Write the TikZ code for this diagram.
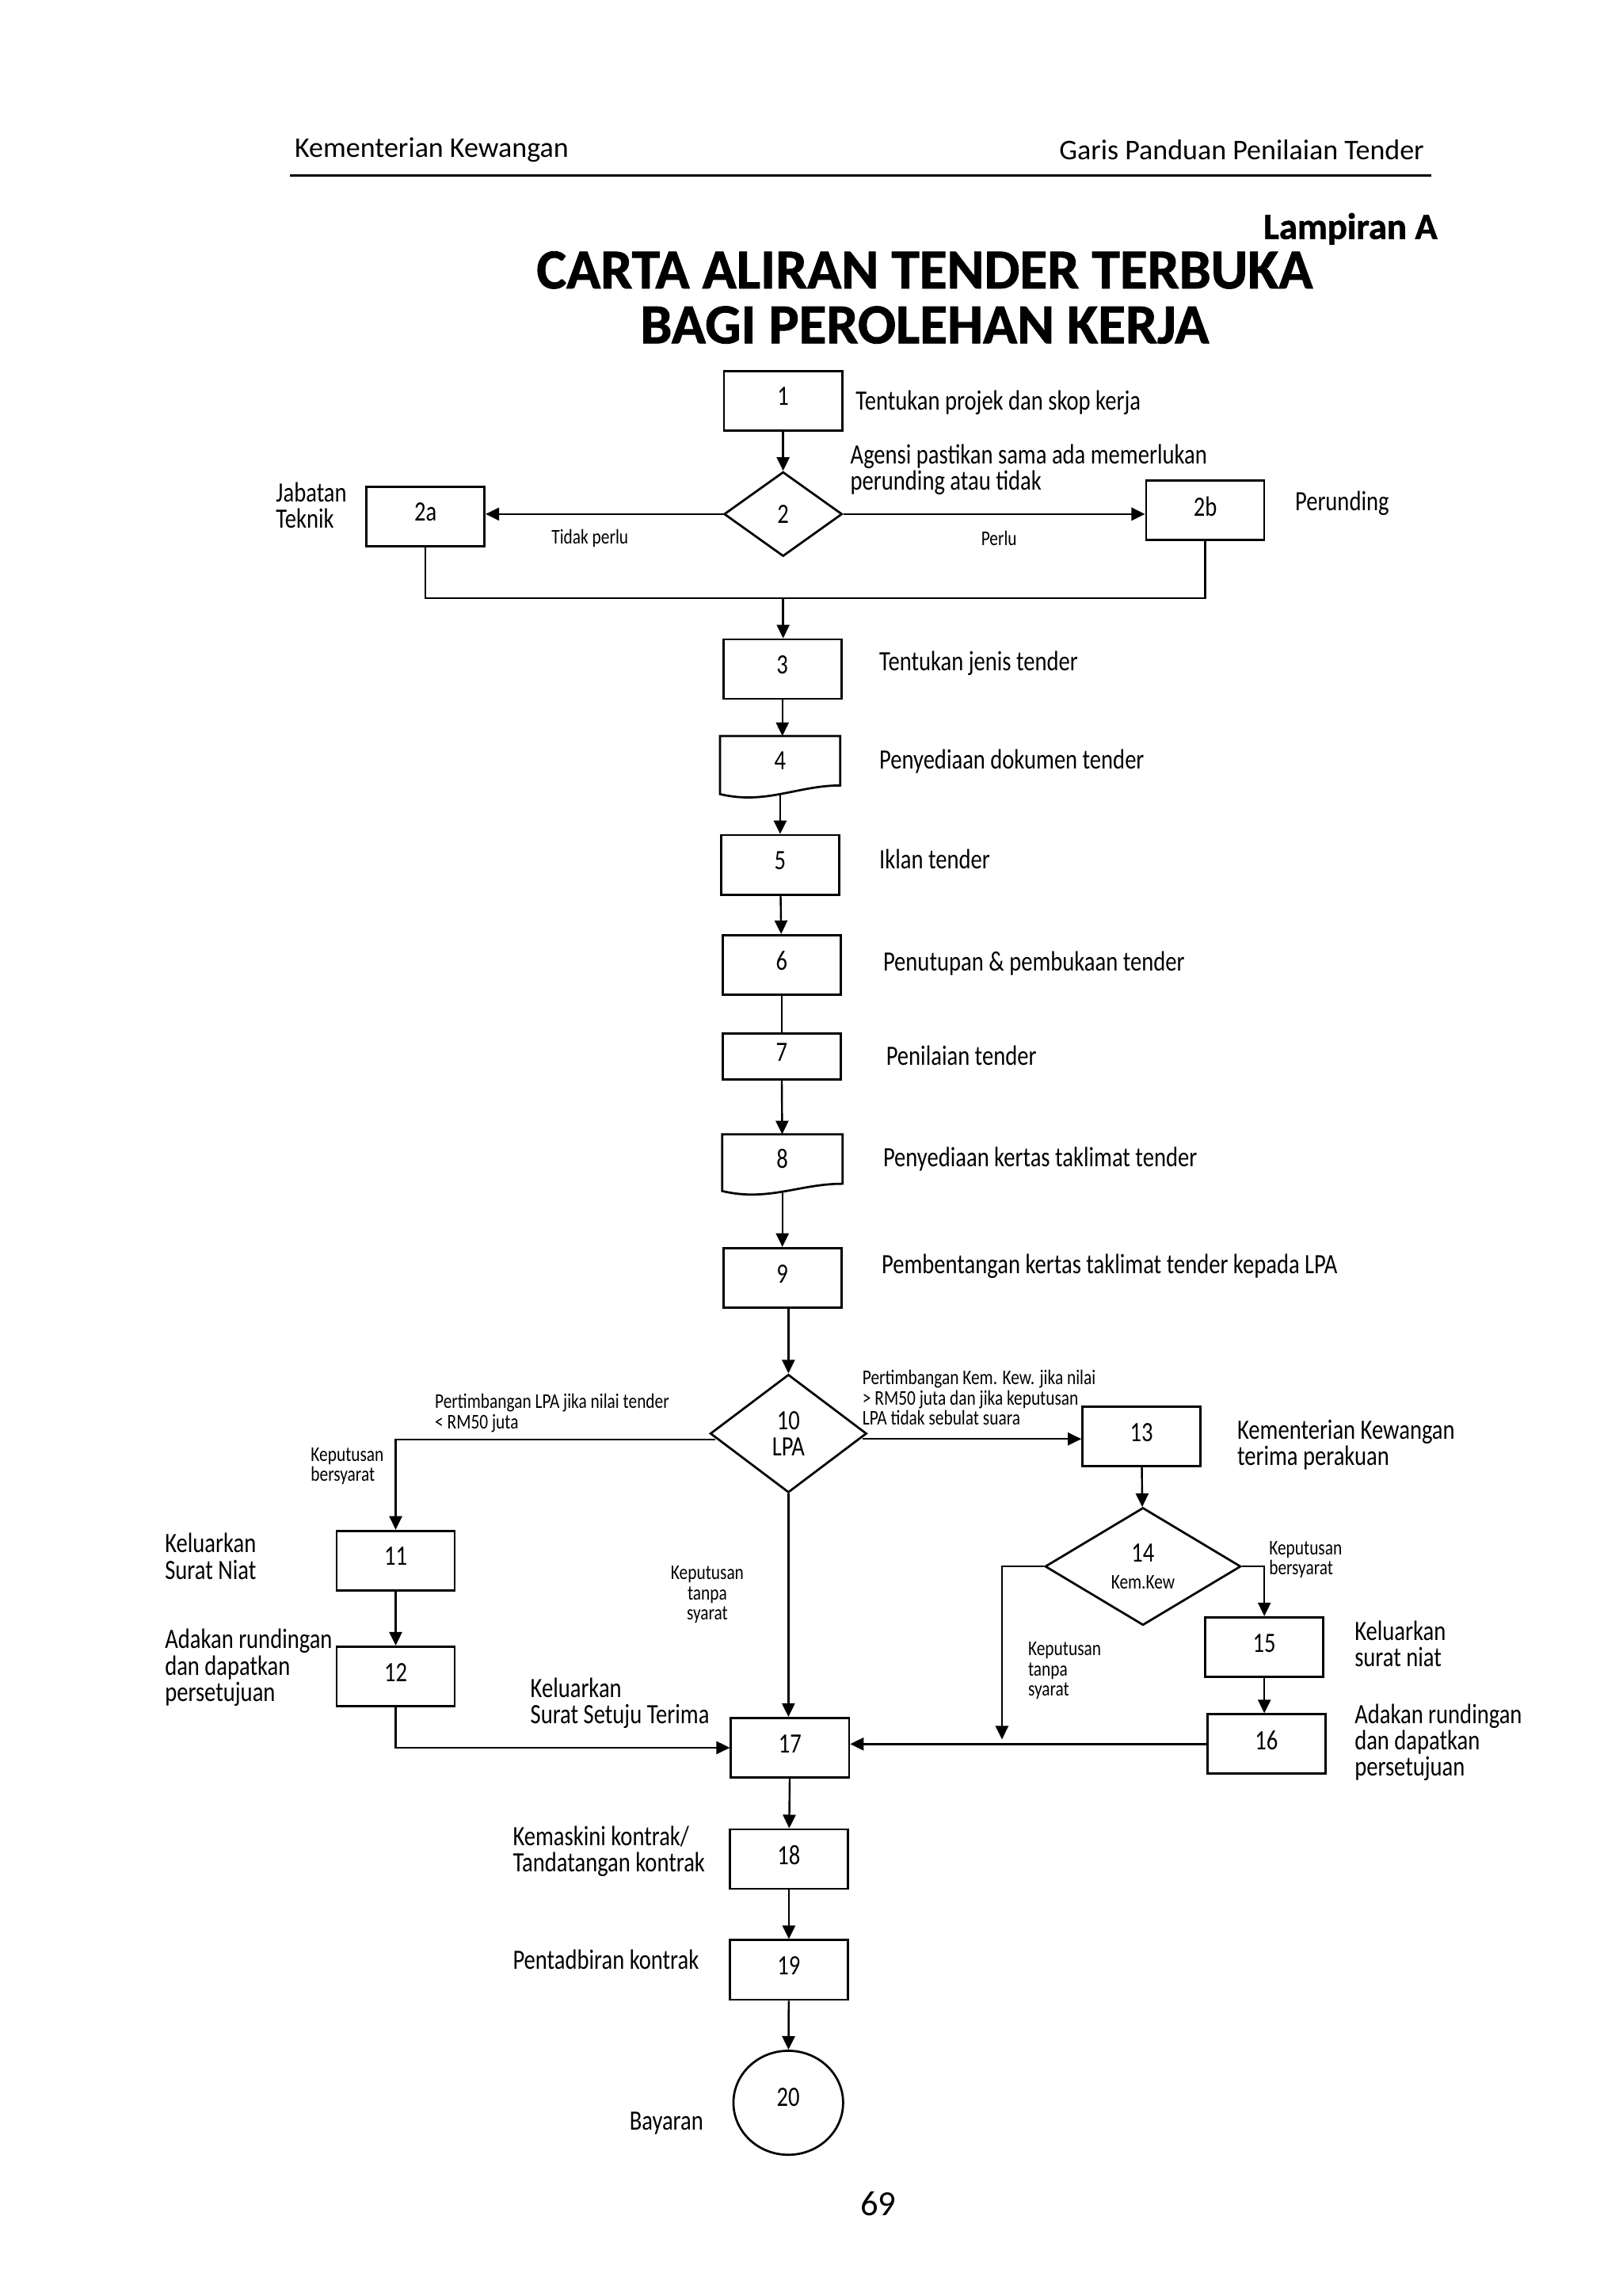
\documentclass[tikz,border=0pt]{standalone}
\usepackage{fontspec}
\setmainfont{Carlito}[FakeStretch=0.81]
\newfontfamily\hdrfont{Carlito}
\newfontfamily\ttlfont{Carlito}[BoldFeatures={FakeBold=1.2}]
\usepackage{tikz}
\usetikzlibrary{arrows.meta,shapes.geometric,calc}

\tikzset{
  box/.style={draw, rectangle, line width=0.8pt, minimum width=43.5pt, minimum height=21.9pt, inner sep=0pt, text depth=3pt, font=\fontsize{10.3}{9.7}\selectfont},
  doc/.style={box, draw=none},
  dia/.style={draw, diamond, line width=0.8pt, inner sep=0pt, align=center, font=\fontsize{10.3}{9.7}\selectfont},
  arr/.style={-{Triangle[length=5pt,width=4.7pt]}, line width=0.7pt},
  lne/.style={line width=0.7pt},
  lbl/.style={anchor=west, align=left, inner sep=0pt, font=\fontsize{10.3}{9.7}\selectfont},
  sml/.style={anchor=west, align=left, inner sep=0pt, font=\fontsize{7.7}{7.4}\selectfont},
}

\begin{document}
\begin{tikzpicture}[x=0.5432pt, y=-0.5432pt]
          \fill[white] (0,0) rectangle (1100,1556.5);
          \useasboundingbox (0,0) rectangle (1100,1556.5);

          \node[anchor=west, inner sep=0pt, font=\hdrfont\fontsize{10.5}{12}\selectfont] at (199.5,101.5) (kk) {Kementerian Kewangan};
          \node[anchor=east, inner sep=0pt, font=\hdrfont\fontsize{10.5}{12}\selectfont] at (966,101.5) (gp) {Garis Panduan Penilaian Tender};
          \draw[line width=0.8pt] (196.7,118.9) -- (970.5,118.9);
          \node[anchor=base east, inner sep=0pt, font=\ttlfont\bfseries\fontsize{13.6}{16}\selectfont] at (975,162) (lamp) {Lampiran A};
          \node[anchor=base, inner sep=0pt, font=\ttlfont\bfseries\fontsize{20.8}{24}\selectfont] at (627,195.5) (tajuk1) {CARTA ALIRAN TENDER TERBUKA};
          \node[anchor=base, inner sep=0pt, font=\ttlfont\bfseries\fontsize{20.8}{24}\selectfont] at (627,232.7) (tajuk2) {BAGI PEROLEHAN KERJA};

          \node[box] at (531,271.6) (1) {1};
          \node[dia, minimum width=43.5pt, minimum height=31.1pt] at (531,348.5) (2) {2};
          \node[box] at (288.5,350) (2a) {2a};
          \node[box] at (817.2,346) (2b) {2b};
          \coordinate (jn) at (531,405.5);
          \node[box] at (530.5,453.6) (3) {3};
          \node[doc, minimum height=20.6pt] at (529,518.65) (4) {4};
          \node[box] at (529,586.3) (5) {5};
          \node[box] at (530,654.1) (6) {6};
          \node[box, minimum height=16.9pt] at (530,716.2) (7) {7};
          \node[doc, minimum height=20.1pt] at (530.5,788.2) (8) {8};
          \node[box] at (530.5,866.2) (9) {9};
          \node[dia, minimum width=57.6pt, minimum height=43.5pt] at (534.6,971.8) (10) {10\\LPA};
          \node[box] at (268.3,1057.9) (11) {11};
          \node[box] at (268.3,1136.4) (12) {12};
          \node[box] at (774,973.9) (13) {13};
          \node[dia, minimum width=72.1pt, minimum height=43.3pt] at (775,1061.9) (14) {14\\{\fontsize{7.7}{8}\selectfont Kem.Kew}};
          \node[box] at (857.3,1116.5) (15) {15};
          \node[box] at (858.7,1182.3) (16) {16};
          \node[box] at (535.7,1184.8) (17) {17};
          \node[box] at (534.9,1260.3) (18) {18};
          \node[box] at (534.9,1335.4) (19) {19};
          \node[draw, ellipse, line width=0.8pt, minimum width=40.4pt, minimum height=38.3pt, inner sep=0pt, text depth=4pt, font=\fontsize{10.3}{9.7}\selectfont] at (534.5,1425.5) (20) {20};
          \coordinate (c14) at (679.4,1179.2);

          \draw[line width=0.8pt] (4.south west) -- (4.north west) -- (4.north east) -- ([yshift=3.2pt]4.south east) .. controls +(-29,0) and +(31,7.4) .. (4.south west) -- cycle;
          \draw[line width=0.8pt] (8.south west) -- (8.north west) -- (8.north east) -- ([yshift=2.7pt]8.south east) .. controls +(-29,0) and +(31,7.4) .. (8.south west) -- cycle;

          \draw[arr] (1) -- (2);
          \draw[arr] (2.west) -- (2.west -| 2a.east);
          \draw[arr] (2.east) -- (2.east -| 2b.west);
          \draw[lne] (2a.south) |- (jn) -| (2b.south);
          \draw[arr] (jn) -- (jn |- 3.north);
          \draw[arr] (3.south) -- (3.south |- 4.north);
          \draw[arr] (4.south) -- (4.south |- 5.north);
          \draw[arr] (5) -- (6);
          \draw[lne] (6) -- (7);
          \draw[arr] (7) -- (8);
          \draw[arr] (8.south) -- (8.south |- 9.north);
          \draw[arr] (10.north |- 9.south) -- (10.north);
          \draw[arr] ([xshift=2.2pt,yshift=-2.2pt]10.west) -| (11.north);
          \draw[arr] ([xshift=-2pt,yshift=-2pt]10.east) -- ([yshift=-2pt]10.east -| 13.west);
          \draw[arr] (10.south) -- (10.south |- 17.north);
          \draw[arr] (11) -- (12);
          \draw[arr] (12.south) |- (17.west);
          \draw[arr] (13) -- (14);
          \draw[arr] (14.east) -| (15.north);
          \draw[arr] (14.west) -| (c14);
          \draw[arr] (15.south) -- (15.south |- 16.north);
          \draw[arr] (16.west) -- (16.west -| 17.east);
          \draw[arr] (17) -- (18);
          \draw[arr] (18) -- (19);
          \draw[arr] (19) -- (20);

          \node[lbl] at (579.9,273) (t1) {Tentukan projek dan skop kerja};
          \node[lbl] at (576.3,318.5) (t2) {Agensi pastikan sama ada memerlukan\\perunding atau tidak};
          \node[lbl] at (186.8,342.5) (t2a) {Jabatan\\Teknik};
          \node[lbl] at (877.8,341) (t2b) {Perunding};
          \node[sml, anchor=center] at (400,364.8) (tp) {Tidak perlu};
          \node[sml, anchor=center] at (677.4,364.8) (pl) {Perlu};
          \node[lbl] at (595.9,449.7) (t3) {Tentukan jenis tender};
          \node[lbl] at (595.9,516) (t4) {Penyediaan dokumen tender};
          \node[lbl] at (595.9,582.3) (t5) {Iklan tender};
          \node[lbl] at (598.5,653.2) (t6) {Penutupan \& pembukaan tender};
          \node[lbl] at (600.5,715.7) (t7) {Penilaian tender};
          \node[lbl] at (598.5,785.7) (t8) {Penyediaan kertas taklimat tender};
          \node[lbl] at (597.5,858.2) (t9) {Pembentangan kertas taklimat tender kepada LPA};
          \node[sml] at (294.6,958) (t10a) {Pertimbangan LPA jika nilai tender\\< RM50 juta};
          \node[sml] at (210.4,993.8) (t10b) {Keputusan\\bersyarat};
          \node[sml] at (584.5,947.5) (t10c) {Pertimbangan Kem. Kew. jika nilai\\> RM50 juta dan jika keputusan\\LPA tidak sebulat suara};
          \node[sml, anchor=center, align=center] at (479.6,1081) (t10d) {Keputusan\\tanpa\\syarat};
          \node[lbl] at (838.6,979.5) (t13) {Kementerian Kewangan\\terima perakuan};
          \node[sml] at (860.2,1057.3) (t14a) {Keputusan\\bersyarat};
          \node[sml] at (696.8,1132.7) (t14b) {Keputusan\\tanpa\\syarat};
          \node[lbl] at (918.2,1114.4) (t15) {Keluarkan\\surat niat};
          \node[lbl] at (918.2,1181.2) (t16) {Adakan rundingan\\dan dapatkan\\persetujuan};
          \node[lbl] at (111.5,1055) (t11) {Keluarkan\\Surat Niat};
          \node[lbl] at (111.5,1130.5) (t12) {Adakan rundingan\\dan dapatkan\\persetujuan};
          \node[lbl] at (359.3,1154.7) (t17) {Keluarkan\\Surat Setuju Terima};
          \node[lbl] at (347.4,1255.2) (t18) {Kemaskini kontrak/\\Tandatangan kontrak};
          \node[lbl] at (347.4,1328.6) (t19) {Pentadbiran kontrak};
          \node[lbl] at (426.5,1439.6) (t20) {Bayaran};
          \node[inner sep=0pt, font=\hdrfont\fontsize{13}{15}\selectfont] at (595.5,1494.1) (hlm) {69};
\end{tikzpicture}
\end{document}
